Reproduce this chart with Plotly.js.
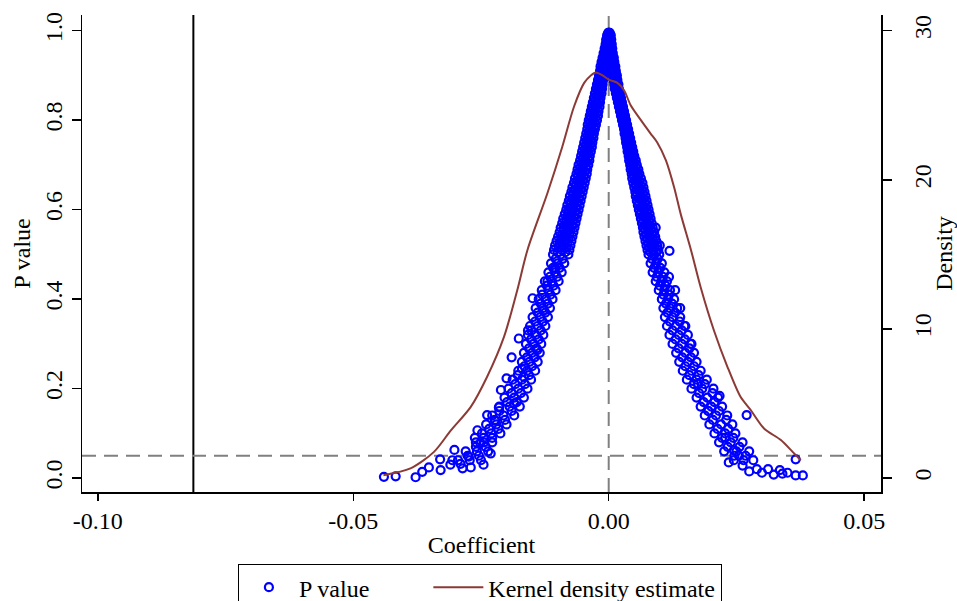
<!DOCTYPE html>
<html>
<head>
<meta charset="utf-8">
<script src="https://cdn.plot.ly/plotly-3.0.1.min.js"></script>
<style>html,body{margin:0;padding:0;background:#fff;}</style>
</head>
<body>
<div id="chart" style="width:957px;height:601px;"></div>
<script>
// P-value levels for the dense band of estimates
const pLevels = [0.99,0.98,0.97,0.96,0.95,0.94,0.93,0.92,0.91,0.90,
0.89,0.88,0.87,0.86,0.85,0.84,0.83,0.82,0.81,0.80,
0.79,0.78,0.77,0.76,0.75,0.74,0.73,0.72,0.71,0.70,
0.69,0.68,0.67,0.66,0.65,0.64,0.63,0.62,0.61,0.60,
0.59,0.58,0.57,0.56,0.55,0.54,0.53,0.52,0.51,0.50,
0.48,0.46,0.44,0.42,0.40,0.38,0.36,0.34,0.32,0.30,0.28,0.26,0.24,0.22,0.20,0.18,0.16,0.14,0.12,0.10,0.08,0.06,0.04];

// Negative-coefficient branch (outer edge, middle, inner edge)
const leftOuter = [-0.0003,-0.0005,-0.0006,-0.0008,-0.0010,-0.0012,-0.0014,-0.0016,-0.0017,-0.0019,
-0.0021,-0.0023,-0.0025,-0.0027,-0.0029,-0.0031,-0.0033,-0.0035,-0.0037,-0.0039,
-0.0041,-0.0042,-0.0044,-0.0046,-0.0048,-0.0050,-0.0052,-0.0054,-0.0056,-0.0059,
-0.0061,-0.0063,-0.0066,-0.0068,-0.0071,-0.0073,-0.0076,-0.0078,-0.0081,-0.0083,
-0.0086,-0.0089,-0.0091,-0.0094,-0.0096,-0.0099,-0.0102,-0.0105,-0.0107,-0.0109,
-0.0113,-0.0118,-0.0125,-0.0131,-0.0137,-0.0143,-0.0149,-0.0154,-0.0158,-0.0162,-0.0166,-0.0170,-0.0177,-0.0188,-0.0196,-0.0204,-0.0214,-0.0228,-0.0240,-0.0248,-0.0260,-0.0280,-0.0295];
const leftMid = [-0.0002,-0.0003,-0.0004,-0.0006,-0.0007,-0.0009,-0.0010,-0.0011,-0.0013,-0.0014,
-0.0016,-0.0018,-0.0019,-0.0020,-0.0022,-0.0024,-0.0026,-0.0027,-0.0029,-0.0031,
-0.0033,-0.0034,-0.0037,-0.0038,-0.0040,-0.0041,-0.0044,-0.0045,-0.0047,-0.0050,
-0.0051,-0.0053,-0.0056,-0.0057,-0.0060,-0.0062,-0.0064,-0.0066,-0.0069,-0.0071,
-0.0073,-0.0076,-0.0078,-0.0080,-0.0083,-0.0085,-0.0087,-0.0090,-0.0092,-0.0094,
-0.0100,-0.0105,-0.0111,-0.0118,-0.0123,-0.0129,-0.0134,-0.0139,-0.0143,-0.0147,-0.0150,-0.0155,-0.0160,-0.0170,-0.0177,-0.0185,-0.0194,-0.0206,-0.0220,-0.0230,-0.0244,-0.0258,-0.0272];
const leftInner = [0.0000,-0.0001,-0.0002,-0.0003,-0.0004,-0.0005,-0.0006,-0.0007,-0.0008,-0.0009,
-0.0011,-0.0012,-0.0013,-0.0014,-0.0016,-0.0017,-0.0018,-0.0020,-0.0021,-0.0023,
-0.0025,-0.0027,-0.0029,-0.0030,-0.0032,-0.0033,-0.0035,-0.0037,-0.0038,-0.0040,
-0.0042,-0.0043,-0.0045,-0.0047,-0.0049,-0.0051,-0.0053,-0.0055,-0.0057,-0.0059,
-0.0061,-0.0063,-0.0065,-0.0067,-0.0069,-0.0071,-0.0073,-0.0075,-0.0077,-0.0079,
-0.0087,-0.0092,-0.0098,-0.0104,-0.0110,-0.0115,-0.0119,-0.0124,-0.0128,-0.0132,-0.0135,-0.0139,-0.0144,-0.0152,-0.0159,-0.0166,-0.0174,-0.0185,-0.0200,-0.0212,-0.0228,-0.0236,-0.0250];

// Positive-coefficient branch (inner edge, middle, outer edge)
const rightInner = [0.0001,0.0002,0.0002,0.0003,0.0004,0.0005,0.0005,0.0006,0.0007,0.0008,
0.0009,0.0011,0.0012,0.0014,0.0016,0.0018,0.0020,0.0022,0.0024,0.0026,
0.0028,0.0030,0.0031,0.0033,0.0034,0.0036,0.0037,0.0039,0.0040,0.0042,
0.0043,0.0045,0.0046,0.0048,0.0050,0.0052,0.0053,0.0055,0.0057,0.0059,
0.0061,0.0063,0.0065,0.0067,0.0068,0.0070,0.0072,0.0074,0.0076,0.0078,
0.0082,0.0086,0.0092,0.0098,0.0104,0.0107,0.0110,0.0114,0.0119,0.0125,0.0132,0.0138,0.0145,0.0153,0.0162,0.0172,0.0180,0.0188,0.0197,0.0207,0.0216,0.0226,0.0245];
const rightMid = [0.0003,0.0003,0.0004,0.0005,0.0006,0.0007,0.0008,0.0010,0.0011,0.0012,
0.0013,0.0015,0.0016,0.0018,0.0020,0.0022,0.0024,0.0026,0.0028,0.0030,
0.0032,0.0034,0.0035,0.0037,0.0039,0.0041,0.0042,0.0044,0.0047,0.0048,
0.0050,0.0053,0.0054,0.0057,0.0059,0.0061,0.0062,0.0065,0.0066,0.0069,
0.0070,0.0073,0.0074,0.0077,0.0078,0.0081,0.0082,0.0085,0.0086,0.0089,
0.0093,0.0097,0.0103,0.0109,0.0116,0.0120,0.0125,0.0131,0.0137,0.0143,0.0150,0.0155,0.0162,0.0172,0.0183,0.0193,0.0201,0.0210,0.0220,0.0228,0.0239,0.0250,0.0264];
const rightOuter = [0.0004,0.0005,0.0006,0.0007,0.0008,0.0010,0.0011,0.0013,0.0014,0.0016,
0.0017,0.0019,0.0020,0.0022,0.0024,0.0026,0.0028,0.0030,0.0032,0.0034,
0.0036,0.0038,0.0040,0.0042,0.0044,0.0046,0.0048,0.0050,0.0053,0.0055,
0.0058,0.0060,0.0063,0.0066,0.0068,0.0070,0.0072,0.0074,0.0076,0.0078,
0.0080,0.0082,0.0084,0.0086,0.0089,0.0091,0.0093,0.0095,0.0097,0.0099,
0.0104,0.0109,0.0114,0.0120,0.0128,0.0134,0.0140,0.0148,0.0155,0.0162,0.0167,0.0172,0.0180,0.0192,0.0205,0.0214,0.0222,0.0232,0.0242,0.0248,0.0262,0.0275,0.0283];

// Further estimates lying between the levels above
const pHalf = [0.995,0.985,0.975,0.965,0.955,0.945,0.935,0.925,0.915,0.905,
0.895,0.885,0.875,0.865,0.855,0.845,0.835,0.825,0.815,0.805,
0.795,0.785,0.775,0.765,0.755,0.745,0.735,0.725,0.715,0.705,
0.695,0.685,0.675,0.665,0.655,0.645,0.635,0.625,0.615,0.605,
0.595,0.585,0.575,0.565,0.555,0.545,0.535,0.525,0.515,0.505,
0.49,0.47,0.45,0.43,0.41,0.39,0.37,0.35,0.33,0.31,0.29,0.27,0.25,0.23,0.21,0.19,0.17,0.15,0.13,0.11,0.09,0.07,0.05];
const leftHalfA = [-0.0001,-0.0003,-0.0004,-0.0006,-0.0007,-0.0009,-0.0011,-0.0012,-0.0014,-0.0015,
-0.0017,-0.0019,-0.0021,-0.0022,-0.0024,-0.0026,-0.0028,-0.0030,-0.0032,-0.0034,
-0.0036,-0.0037,-0.0039,-0.0041,-0.0043,-0.0044,-0.0047,-0.0048,-0.0050,-0.0053,
-0.0055,-0.0057,-0.0060,-0.0061,-0.0064,-0.0066,-0.0069,-0.0071,-0.0074,-0.0076,
-0.0078,-0.0081,-0.0083,-0.0086,-0.0088,-0.0091,-0.0093,-0.0096,-0.0098,-0.0100,
-0.0104,-0.0109,-0.0115,-0.0121,-0.0130,-0.0133,-0.0139,-0.0144,-0.0151,-0.0152,-0.0156,-0.0160,-0.0165,-0.0178,-0.0183,-0.0190,-0.0199,-0.0214,-0.0223,-0.0234,-0.0245,-0.0260,-0.0276];
const leftHalfB = [0.0000,-0.0001,-0.0002,-0.0003,-0.0004,-0.0006,-0.0007,-0.0008,-0.0009,-0.0010,
-0.0012,-0.0014,-0.0015,-0.0016,-0.0018,-0.0019,-0.0021,-0.0022,-0.0024,-0.0026,
-0.0028,-0.0029,-0.0032,-0.0033,-0.0035,-0.0036,-0.0038,-0.0040,-0.0041,-0.0044,
-0.0045,-0.0047,-0.0049,-0.0051,-0.0053,-0.0055,-0.0057,-0.0059,-0.0062,-0.0064,
-0.0066,-0.0068,-0.0070,-0.0072,-0.0075,-0.0077,-0.0079,-0.0081,-0.0083,-0.0085,
-0.0090,-0.0096,-0.0101,-0.0108,-0.0114,-0.0119,-0.0124,-0.0129,-0.0133,-0.0137,-0.0141,-0.0145,-0.0150,-0.0156,-0.0164,-0.0172,-0.0180,-0.0190,-0.0203,-0.0216,-0.0228,-0.0241,-0.0254];
const rightHalfA = [0.0001,0.0001,0.0002,0.0003,0.0004,0.0005,0.0005,0.0007,0.0008,0.0009,
0.0010,0.0012,0.0013,0.0015,0.0017,0.0019,0.0021,0.0023,0.0025,0.0027,
0.0029,0.0031,0.0032,0.0034,0.0035,0.0037,0.0038,0.0040,0.0042,0.0044,
0.0045,0.0048,0.0049,0.0051,0.0053,0.0055,0.0056,0.0059,0.0060,0.0063,
0.0064,0.0067,0.0068,0.0071,0.0072,0.0074,0.0076,0.0078,0.0080,0.0082,
0.0085,0.0089,0.0094,0.0100,0.0107,0.0112,0.0115,0.0120,0.0125,0.0131,0.0137,0.0144,0.0150,0.0158,0.0167,0.0177,0.0186,0.0195,0.0204,0.0213,0.0222,0.0233,0.0246];
const rightHalfB = [0.0002,0.0003,0.0004,0.0005,0.0006,0.0007,0.0008,0.0010,0.0011,0.0013,
0.0014,0.0016,0.0017,0.0019,0.0021,0.0023,0.0025,0.0027,0.0029,0.0031,
0.0033,0.0035,0.0036,0.0038,0.0040,0.0042,0.0044,0.0046,0.0049,0.0050,
0.0053,0.0055,0.0057,0.0060,0.0062,0.0064,0.0066,0.0068,0.0070,0.0072,
0.0074,0.0076,0.0078,0.0080,0.0082,0.0085,0.0086,0.0089,0.0090,0.0093,
0.0096,0.0101,0.0106,0.0111,0.0118,0.0124,0.0130,0.0139,0.0143,0.0149,0.0158,0.0161,0.0167,0.0176,0.0188,0.0203,0.0207,0.0216,0.0230,0.0234,0.0244,0.0256,0.0268];

// Scattered individual estimates outside the dense band
const extraCoef = [-0.0440,-0.0417,-0.0378,-0.0365,-0.0352,-0.0329,-0.0330,-0.0306,-0.0302,-0.0286,-0.0270,-0.0274,-0.0231,-0.0245,-0.0257,-0.0251,-0.0238,-0.0176,-0.0166,-0.0149,-0.0185,-0.0200,-0.0211,-0.0140,-0.0127,-0.0310,
-0.0290,-0.0262,-0.0222,-0.0215,-0.0190,-0.0170,-0.0158,-0.0120,-0.0105,-0.0085,
0.0119,0.0217,0.0270,0.0366,0.0323,0.0340,0.0366,0.0380,0.0300,0.0290,0.0312,0.0335,0.0255,0.0235,0.0262,0.0275,0.0350,0.0150,0.0130,0.0175,
0.0245,0.0228,0.0195,0.0160,0.0140,0.0118,0.0100,0.0092];
const extraP = [0.003,0.004,0.002,0.014,0.024,0.018,0.042,0.040,0.063,0.022,0.024,0.048,0.055,0.030,0.107,0.078,0.141,0.312,0.226,0.402,0.167,0.223,0.197,0.286,0.375,0.030,
0.032,0.090,0.128,0.158,0.270,0.245,0.330,0.440,0.470,0.530,
0.508,0.184,0.141,0.042,0.008,0.010,0.006,0.006,0.012,0.020,0.020,0.018,0.050,0.035,0.028,0.015,0.012,0.340,0.420,0.210,
0.062,0.090,0.150,0.300,0.380,0.450,0.520,0.560];

// Kernel density estimate of the coefficients
const kdeX = [-0.0441,-0.0388,-0.0342,-0.0309,-0.0270,-0.0238,-0.0205,-0.0179,-0.0159,-0.0120,-0.0091,-0.0068,-0.0048,-0.0035,-0.0025,-0.0012,0.0001,0.0017,0.0030,0.0043,0.0063,0.0082,0.0095,0.0112,0.0128,0.0141,0.0161,0.0180,0.0206,0.0232,0.0258,0.0278,0.0304,0.0337,0.0360,0.0376];
const kdeY = [0.2,0.65,1.76,3.2,4.78,6.8,9.47,12.6,15.3,19.1,22.2,24.9,26.5,27.0,27.2,27.0,26.7,26.5,26.0,25.0,24.0,23.1,22.5,21.3,19.5,17.7,15.3,12.8,9.9,7.5,5.45,4.56,3.33,2.55,1.76,1.2];

const xTicks = [-0.10,-0.05,0.00,0.05];
const xTickText = ['-0.10','-0.05','0.00','0.05'];
const pTicks = [0,0.2,0.4,0.6,0.8,1.0];
const pTickText = ['0.0','0.2','0.4','0.6','0.8','1.0'];
const dTicks = [0,10,20,30];
const refCoef = -0.0813;
const pThreshold = 0.05;

// assemble scatter arrays
let sx = [], sy = [];
for (let i = 0; i < pLevels.length; i++) {
  sx.push(leftOuter[i], leftMid[i], leftInner[i], rightInner[i], rightMid[i], rightOuter[i]);
  sy.push(pLevels[i], pLevels[i], pLevels[i], pLevels[i], pLevels[i], pLevels[i]);
}
for (let i = 0; i < pHalf.length; i++) {
  sx.push(leftHalfA[i], leftHalfB[i], rightHalfA[i], rightHalfB[i]);
  sy.push(pHalf[i], pHalf[i], pHalf[i], pHalf[i]);
}
sx = sx.concat(extraCoef);
sy = sy.concat(extraP);

const FONT = '"Liberation Serif", "Times New Roman", Times, serif';
const NB = '\u00a0';

const traces = [
  {
    x: sx, y: sy, type: 'scatter', mode: 'markers',
    name: 'P value' + NB.repeat(9),
    marker: {symbol: 'circle-open', size: 8, color: '#0000ff', line: {width: 2.2, color: '#0000ff'}},
    xaxis: 'x', yaxis: 'y', hoverinfo: 'skip'
  },
  {
    x: kdeX, y: kdeY, type: 'scatter', mode: 'lines', name: 'Kernel density estimate',
    line: {color: '#8c3a36', width: 2, shape: 'spline', smoothing: 0.8},
    xaxis: 'x', yaxis: 'y2', hoverinfo: 'skip'
  }
];

const axisCommon = {
  showgrid: false, zeroline: false, showline: true, linecolor: 'black', linewidth: 1.5,
  ticks: 'outside', tickcolor: 'black', tickwidth: 1.5, fixedrange: true,
  tickfont: {family: FONT, size: 24, color: 'black'}
};

const layout = {
  width: 957, height: 601,
  margin: {l: 82, r: 76, t: 15, b: 109, pad: 0, autoexpand: false},
  paper_bgcolor: 'white', plot_bgcolor: 'white',
  font: {family: FONT, size: 24, color: 'black'},
  showlegend: true,
  xaxis: Object.assign({}, axisCommon, {
    range: [-0.1031, 0.0533], tickmode: 'array', tickvals: xTicks, ticktext: xTickText,
    ticklen: 7, automargin: false,
    title: {text: 'Coefficient', font: {family: FONT, size: 24}, standoff: 3}
  }),
  yaxis: Object.assign({}, axisCommon, {
    range: [-0.031, 1.035], tickmode: 'array', tickvals: pTicks, ticktext: pTickText,
    tickangle: -90, ticklen: 9, ticklabelstandoff: 0, automargin: false,
    title: {text: 'P value', font: {family: FONT, size: 24}, standoff: 3}
  }),
  yaxis2: Object.assign({}, axisCommon, {
    overlaying: 'y', side: 'right', anchor: 'x',
    range: [-0.93, 31.05], tickmode: 'array', tickvals: dTicks,
    tickangle: -90, ticklen: 9, ticklabelstandoff: 11, automargin: false,
    title: {text: 'Density', font: {family: FONT, size: 24}, standoff: 5}
  }),
  legend: {
    orientation: 'h', x: 0.498, xanchor: 'center', y: -0.151, yanchor: 'top',
    bordercolor: 'black', borderwidth: 1, bgcolor: 'white', itemwidth: 50,
    font: {family: FONT, size: 24, color: 'black'}
  },
  shapes: [
    {type: 'line', xref: 'x', yref: 'paper', x0: refCoef, x1: refCoef, y0: 0, y1: 1,
     line: {color: 'black', width: 2}, layer: 'below'},
    {type: 'line', xref: 'x', yref: 'paper', x0: 0, x1: 0, y0: 0, y1: 1,
     line: {color: '#808080', width: 2, dash: '14px,8px'}, layer: 'below'},
    {type: 'line', xref: 'paper', yref: 'y', x0: 0, x1: 1, y0: pThreshold, y1: pThreshold,
     line: {color: '#808080', width: 2, dash: '14px,8px'}, layer: 'below'}
  ]
};

Plotly.newPlot('chart', traces, layout, {displayModeBar: false, staticPlot: true});
</script>
</body>
</html>
